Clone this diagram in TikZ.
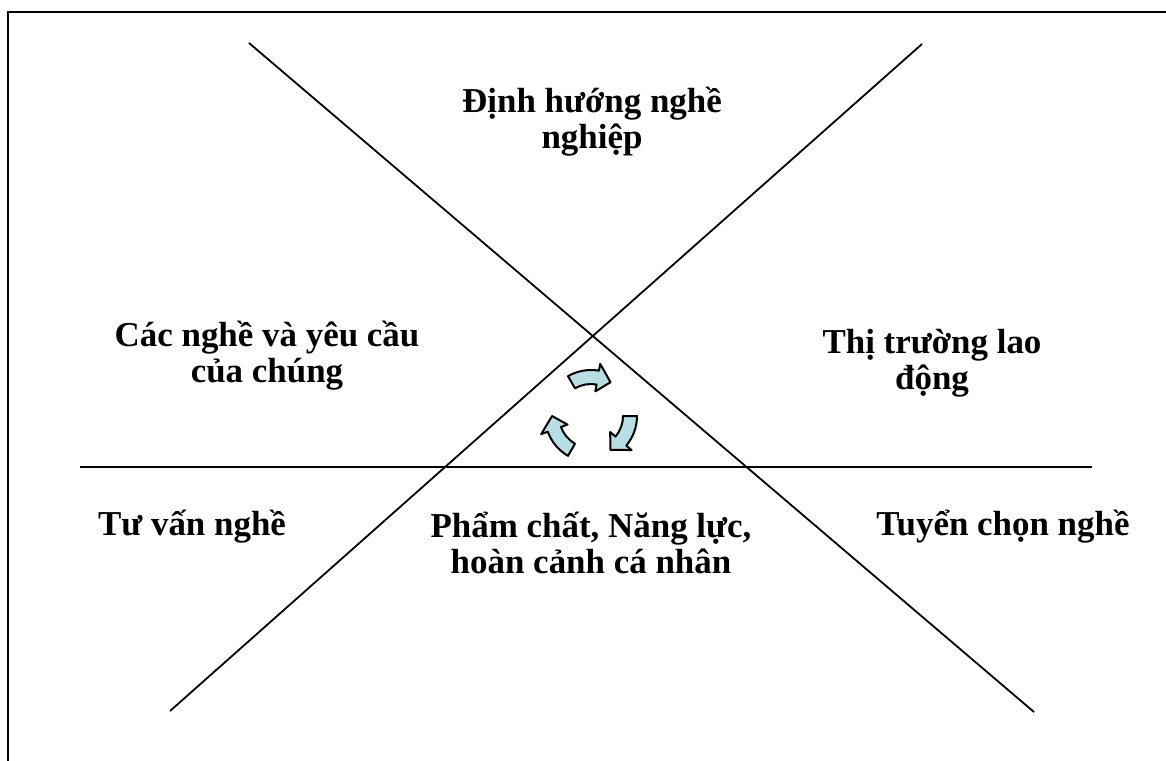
\documentclass[tikz,border=0pt]{standalone}
\usepackage{fontspec}
\setmainfont{Liberation Serif}
\usetikzlibrary{arrows.meta}

\definecolor{cyclefill}{RGB}{183,222,228}

\tikzset{
  txt/.style={font=\fontsize{26.2}{27}\selectfont\bfseries, align=center,
              anchor=base, inner sep=0pt},
  divider/.style={draw=black, line width=1.35pt},
  cyc/.style={draw=black, line width=1.5pt, fill=cyclefill, line join=round}
}

% one curved block arrow of the cycle, starting at angle #1
\newcommand{\cyclearrow}[1]{%
  \draw[cyc] ({#1}:46) arc[start angle={#1}, end angle={#1+40}, radius=46]
    -- ({#1+40}:53) -- ({#1+60}:39) -- ({#1+40}:25) -- ({#1+40}:32)
    arc[start angle={#1+40}, end angle={#1}, radius=32] -- cycle;}

\begin{document}
\begin{tikzpicture}[x=0.75pt, y=-0.75pt]
    \useasboundingbox (0,0) rectangle (1166,760);
    \clip (0,0) rectangle (1166,760);
    \draw[line width=1.7pt] (8,12) rectangle (1190,790);

    \coordinate (TL) at (249,43);
    \coordinate (BR) at (1034,712);
    \coordinate (TR) at (922,44);
    \coordinate (BL) at (170,711);
    \coordinate (ML) at (80,467);
    \coordinate (MR) at (1092,467);
    \path[divider] (TL) edge (BR);
    \path[divider] (TR) edge (BL);
    \path[divider] (ML) edge (MR);

    \node[txt] (top) at (592,148) {Định hướng nghề\\nghiệp};
    \node[txt] (left) at (267,382) {Các nghề và yêu cầu\\của chúng};
    \node[txt] (right) at (932,389) {Thị trường lao\\động};
    \node[txt] (advice) at (192,535) {Tư vấn nghề};
    \node[txt] (self) at (591,573) {Phẩm chất, Năng lực,\\hoàn cảnh cá nhân};
    \node[txt] (select) at (1003,535) {Tuyển chọn nghề};

\begin{scope}[shift={(591,416)}]
    \cyclearrow{0}
    \cyclearrow{120}
    \cyclearrow{240}
\end{scope}

\end{tikzpicture}
\end{document}
